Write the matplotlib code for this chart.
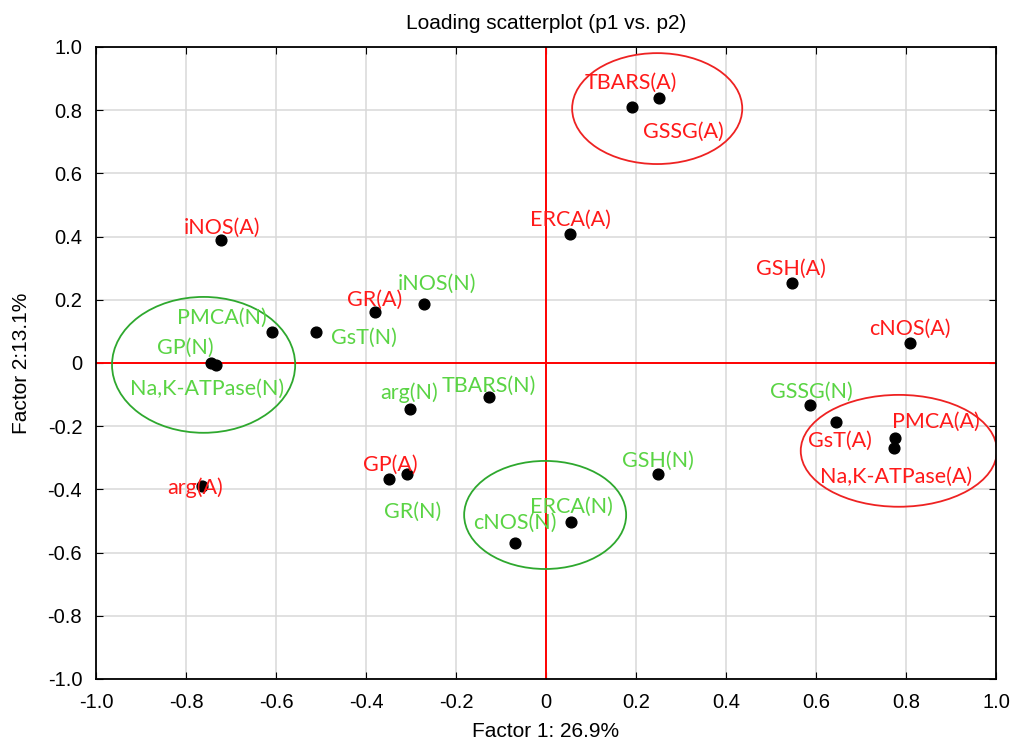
import matplotlib
matplotlib.use("Agg")
import matplotlib.pyplot as plt
from matplotlib.patches import Ellipse

# loadings
names = ["iNOS(A)", "PMCA(N)", "GsT(N)", "GR(A)", "iNOS(N)", "GP(N)", "Na,K-ATPase(N)",
         "TBARS(A)", "GSSG(A)", "ERCA(A)", "GSH(A)", "cNOS(A)",
         "arg(N)", "TBARS(N)", "GP(A)", "GR(N)", "arg(A)", "cNOS(N)",
         "ERCA(N)", "GSH(N)", "GSSG(N)", "GsT(A)", "PMCA(A)", "Na,K-ATPase(A)"]
p1 = [-0.722, -0.608, -0.511, -0.380, -0.271, -0.744, -0.733,
      0.191, 0.250, 0.053, 0.547, 0.809,
      -0.303, -0.127, -0.348, -0.308, -0.765, -0.068,
      0.056, 0.249, 0.587, 0.645, 0.776, 0.773]
p2 = [0.389, 0.097, 0.097, 0.160, 0.187, 0.000, -0.006,
      0.811, 0.838, 0.407, 0.253, 0.062,
      -0.146, -0.109, -0.367, -0.351, -0.388, -0.570,
      -0.503, -0.352, -0.134, -0.187, -0.238, -0.270]
groups = ["A", "N", "N", "A", "N", "N", "N",
          "A", "A", "A", "A", "A",
          "N", "N", "A", "N", "A", "N",
          "N", "N", "N", "A", "A", "A"]

ticks = [-1.0, -0.8, -0.6, -0.4, -0.2, 0, 0.2, 0.4, 0.6, 0.8, 1.0]
tick_labels = ["-1.0", "-0.8", "-0.6", "-0.4", "-0.2", "0", "0.2", "0.4", "0.6", "0.8", "1.0"]

# label offsets in pixels (dx right, dy down)
offsets = {
    "iNOS(A)": (1, -12), "PMCA(N)": (-51, -14), "GsT(N)": (48, 6), "GR(A)": (0, -13),
    "iNOS(N)": (13, -20), "GP(N)": (-26, -15), "Na,K-ATPase(N)": (-9, 24),
    "TBARS(A)": (-1, -24), "GSSG(A)": (25, 34), "ERCA(A)": (1, -14), "GSH(A)": (-1, -14),
    "cNOS(A)": (0, -15), "arg(N)": (-1, -16), "TBARS(N)": (0, -12), "GP(A)": (1, -14),
    "GR(N)": (5, 38), "arg(A)": (-7, 2), "cNOS(N)": (-1, -20), "ERCA(N)": (0, -15),
    "GSH(N)": (0, -13), "GSSG(N)": (1, -13), "GsT(A)": (4, 19), "PMCA(A)": (41, -16),
    "Na,K-ATPase(A)": (2, 29),
}

red = "#ff1a1a"
green = "#5ad444"

fig = plt.figure(figsize=(10.11, 7.49), dpi=100)
ax = fig.add_axes([0.095, 0.0935, 0.8902, 0.8438])

ax.axhline(0, color="red", lw=1.4, zorder=1)
ax.axvline(0, color="red", lw=1.4, zorder=1)

ax.scatter(p1, p2, s=60, color="black", zorder=3)

for n, x, y, g in zip(names, p1, p2, groups):
    dx, dy = offsets[n]
    ax.annotate(n, (x, y), xytext=(dx, -dy), textcoords="offset pixels",
                ha="center", va="center", fontsize=15.5, family="Lato",
                color=red if g == "A" else green, zorder=4)

# group ellipses
ax.add_patch(Ellipse((0.247, 0.805), 0.378, 0.351, fill=False, ec="#ee2222", lw=1.3, zorder=2))
ax.add_patch(Ellipse((0.784, -0.278), 0.436, 0.354, fill=False, ec="#ee2222", lw=1.3, zorder=2))
ax.add_patch(Ellipse((-0.761, -0.006), 0.407, 0.430, fill=False, ec="#2ea82e", lw=1.3, zorder=2))
ax.add_patch(Ellipse((-0.002, -0.481), 0.360, 0.342, fill=False, ec="#2ea82e", lw=1.3, zorder=2))

ax.set_xlim(-1.0, 1.0)
ax.set_ylim(-1.0, 1.0)
ax.set_xticks(ticks)
ax.set_xticklabels(tick_labels)
ax.set_yticks(ticks)
ax.set_yticklabels(tick_labels)
ax.grid(True, color="#d9d9d9", lw=1.1, zorder=0)
ax.set_axisbelow(True)
ax.tick_params(direction="in", length=5, top=True, right=True, labelsize=14.5, pad=10)
for s in ax.spines.values():
    s.set_linewidth(1.3)

ax.set_title("Loading scatterplot (p1 vs. p2)", fontsize=15, family="Liberation Sans", pad=13)
ax.set_xlabel("Factor 1: 26.9%", fontsize=15, family="Liberation Sans", labelpad=7)
ax.set_ylabel("Factor 2:13.1%", fontsize=15, family="Liberation Sans", labelpad=12)
for t in ax.get_xticklabels() + ax.get_yticklabels():
    t.set_family("Liberation Sans")

fig.savefig("out.png", dpi=100)
